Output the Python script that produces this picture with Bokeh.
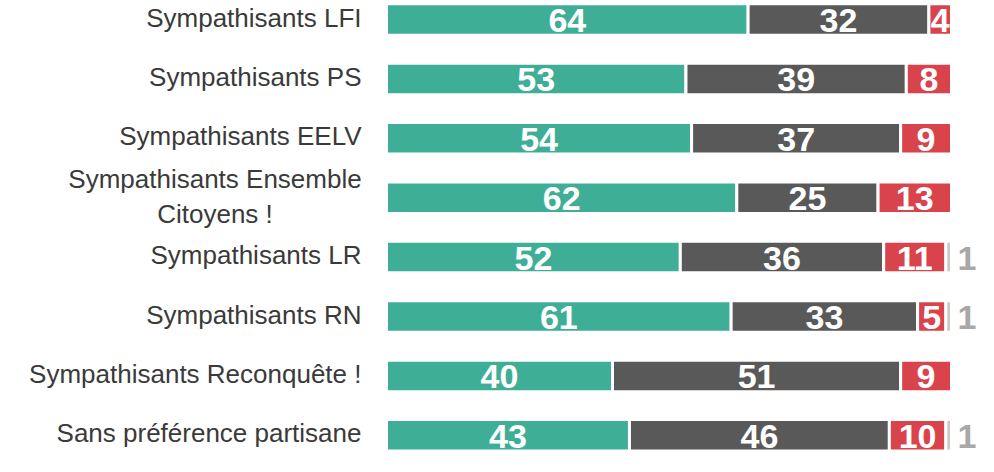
from bokeh.plotting import figure
from bokeh.models import ColumnDataSource, Range1d
from bokeh.embed import file_html
from bokeh.resources import INLINE
from bokeh.core.properties import value

categories = [
    "Sympathisants LFI",
    "Sympathisants PS",
    "Sympathisants EELV",
    "Sympathisants Ensemble\nCitoyens !",
    "Sympathisants LR",
    "Sympathisants RN",
    "Sympathisants Reconquête !",
    "Sans préférence partisane",
]
series_green = [64, 53, 54, 62, 52, 61, 40, 43]
series_dark = [32, 39, 37, 25, 36, 33, 51, 46]
series_red = [4, 8, 9, 13, 11, 5, 9, 10]
series_grey = [0, 0, 0, 0, 1, 1, 0, 1]

colors = ["#3FAE96", "#595959", "#D9434B", "#C9C9C9"]
FONT = value("Liberation Sans")

p = figure(width=978, height=456,
           x_range=Range1d(-68.319, 104.778),
           y_range=Range1d(7.3569, -0.31987),
           output_backend="svg", toolbar_location=None,
           x_axis_location=None, y_axis_location=None,
           min_border=0)
p.grid.visible = False
p.outline_line_color = None
p.background_fill_color = "white"
p.border_fill_color = "white"

rows = list(range(len(categories)))
all_series = [series_green, series_dark, series_red, series_grey]
left = [0] * len(rows)
for k, s in enumerate(all_series):
    right = [l + v for l, v in zip(left, s)]
    idx = [i for i in rows if s[i] > 0]
    src = ColumnDataSource(dict(
        y=[rows[i] for i in idx],
        left=[left[i] for i in idx],
        right=[right[i] for i in idx],
        xc=[(left[i] + right[i]) / 2 for i in idx],
        txt=[str(s[i]) for i in idx],
    ))
    p.hbar(y="y", left="left", right="right", height=0.53, source=src,
           fill_color=colors[k], line_color="white", line_width=3)
    if k < 3:
        p.text(x="xc", y="y", text="txt", source=src,
               text_align="center", text_baseline="middle", y_offset=1,
               text_color="white", text_font=FONT, text_font_style="bold",
               text_font_size="34px")
    else:
        p.text(x="right", y="y", text="txt", source=src,
               text_align="left", text_baseline="middle", y_offset=1,
               x_offset=6, text_color="#A8A8A8", text_font=FONT,
               text_font_style="bold", text_font_size="34px")
    left = right

single = [i for i in rows if "\n" not in categories[i]]
multi = [i for i in rows if "\n" in categories[i]]
src_single = ColumnDataSource(dict(x=[0] * len(single), y=single,
                                   txt=[categories[i] for i in single]))
src_multi = ColumnDataSource(dict(x=[0] * len(multi), y=multi,
                                  txt=[categories[i] for i in multi]))
p.text(x="x", y="y", text="txt", source=src_single, text_align="right",
       text_baseline="middle", x_offset=-25, y_offset=-2,
       text_color="#3A3A3A", text_font=FONT, text_font_size="26px")
p.text(x="x", y="y", text="txt", source=src_multi, text_align="center",
       text_baseline="middle", x_offset=-171.5, y_offset=-1, text_line_height=1.15,
       text_color="#3A3A3A", text_font=FONT, text_font_size="26px")

open("out.html", "w").write(file_html(p, INLINE))
